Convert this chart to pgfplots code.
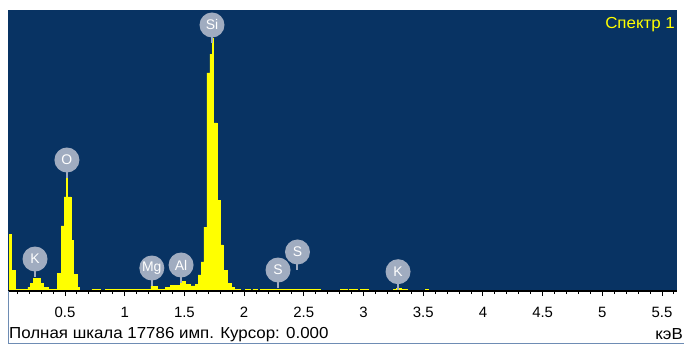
\documentclass[border=0pt]{standalone}
\usepackage{fontspec}
\setmainfont{Liberation Sans}
\usepackage{pgfplots}
\pgfplotsset{compat=1.18}

\definecolor{specbg}{RGB}{8,51,99}
\definecolor{specfill}{RGB}{255,255,0}
\definecolor{markgray}{RGB}{160,172,192}
\definecolor{framecol}{RGB}{110,140,180}

% element line marker: short stem with a round badge above it
\pgfdeclareplotmark{eds}{%
  \pgfsetlinewidth{2bp}%
  \pgfpathmoveto{\pgfpoint{0bp}{0bp}}%
  \pgfpathlineto{\pgfpoint{0bp}{-18bp}}%
  \pgfusepathqstroke
  \pgfpathcircle{\pgfpointorigin}{12.5bp}%
  \pgfusepathqfill
}

\newcommand{\txt}{\fontsize{16}{16}\selectfont\addfontfeatures{FakeStretch=1.06}}

\begin{document}
\begin{tikzpicture}
\useasboundingbox (0bp,0bp) rectangle (684bp,-345bp);
\fill[white] (0bp,0bp) rectangle (684bp,-345bp);
\begin{axis}[
  at={(8bp,-291bp)}, anchor=south west,
  scale only axis, width=668.5bp, height=281bp,
  xmin=0.0226, xmax=5.621, ymin=0, ymax=17786,
  axis x line*=bottom, axis y line=none,
  axis on top,
  axis background/.style={fill=specbg},
  xtick={0.5,1,1.5,2,2.5,3,3.5,4,4.5,5,5.5},
  minor xtick={0.1,0.2,0.3,0.4,0.6,0.7,0.8,0.9,1.1,1.2,1.3,1.4,1.6,1.7,1.8,1.9,
    2.1,2.2,2.3,2.4,2.6,2.7,2.8,2.9,3.1,3.2,3.3,3.4,3.6,3.7,3.8,3.9,
    4.1,4.2,4.3,4.4,4.6,4.7,4.8,4.9,5.1,5.2,5.3,5.4,5.6},
  tick align=outside, major tick length=5bp, minor tick length=3bp,
  tick style={black, line width=1bp},
  x axis line style={black, line width=1.2bp},
  /pgf/number format/assume math mode=true,
  xticklabel style={font=\fontsize{15}{15}\selectfont, anchor=base, yshift=-21.5bp},
]
% element markers
\addplot[only marks, mark=eds, mark options={markgray, line width=2bp},
  nodes near coords, point meta=explicit symbolic,
  every node near coord/.append style={anchor=center, text=white,
    font=\fontsize{14}{14}\selectfont, inner sep=0pt}]
  coordinates {
    (0.249,2025)[K]
    (0.516,8292)[O]
    (1.227,1456)[Mg]
    (1.472,1646)[Al]
    (1.731,16837)[Si]
    (2.284,1329)[S]
    (2.447,2469)[S]
    (3.289,1222)[K]
  };
% spectrum counts per energy step (keV)
\addplot[const plot mark left, fill=specfill, draw=specfill, line width=0.4bp]
  coordinates {
  (0.0226,0) (0.031,3608) (0.048,1329) (0.081,110)
  (0.190,253) (0.207,506) (0.232,823) (0.291,506) (0.316,253) (0.358,110)
  (0.433,1139) (0.467,4115) (0.492,5950) (0.513,7280) (0.521,5950)
  (0.550,3228) (0.567,1076) (0.601,253) (0.617,0)
  (0.726,110) (0.793,0) (0.835,110)
  (1.220,316) (1.270,110)
  (1.338,253) (1.380,380) (1.464,633) (1.505,443) (1.547,320)
  (1.589,443) (1.614,1013) (1.639,1836) (1.664,4051) (1.689,13800)
  (1.714,15000) (1.734,16015) (1.742,10634) (1.773,5760) (1.802,2912)
  (1.823,1329) (1.857,506) (1.890,253) (1.915,110) (1.966,0)
  (2.008,110) (2.049,0) (2.074,110) (2.108,0) (2.133,110) (2.636,0)
  (2.803,110) (2.862,0) (2.884,110) (2.946,0) (2.971,110) (3.038,0)
  (3.247,110) (3.272,170) (3.314,110) (3.364,0)
  (3.515,110) (3.540,0) (5.621,0)
} \closedcycle;
\end{axis}
\draw[framecol, line width=1bp] (8bp,-291bp) -- (8bp,-343.5bp) -- (684bp,-343.5bp);
\node[anchor=base west, inner sep=0pt, font=\txt]
  at (9bp,-338.3bp) {Полная шкала 17786 имп. Курсор: 0.000};
\node[anchor=base east, inner sep=0pt, font=\txt]
  at (683bp,-339bp) {кэВ};
\node[anchor=base east, inner sep=0pt, text=specfill, font=\txt]
  at (675bp,-28bp) {Спектр 1};
\end{tikzpicture}
\end{document}
